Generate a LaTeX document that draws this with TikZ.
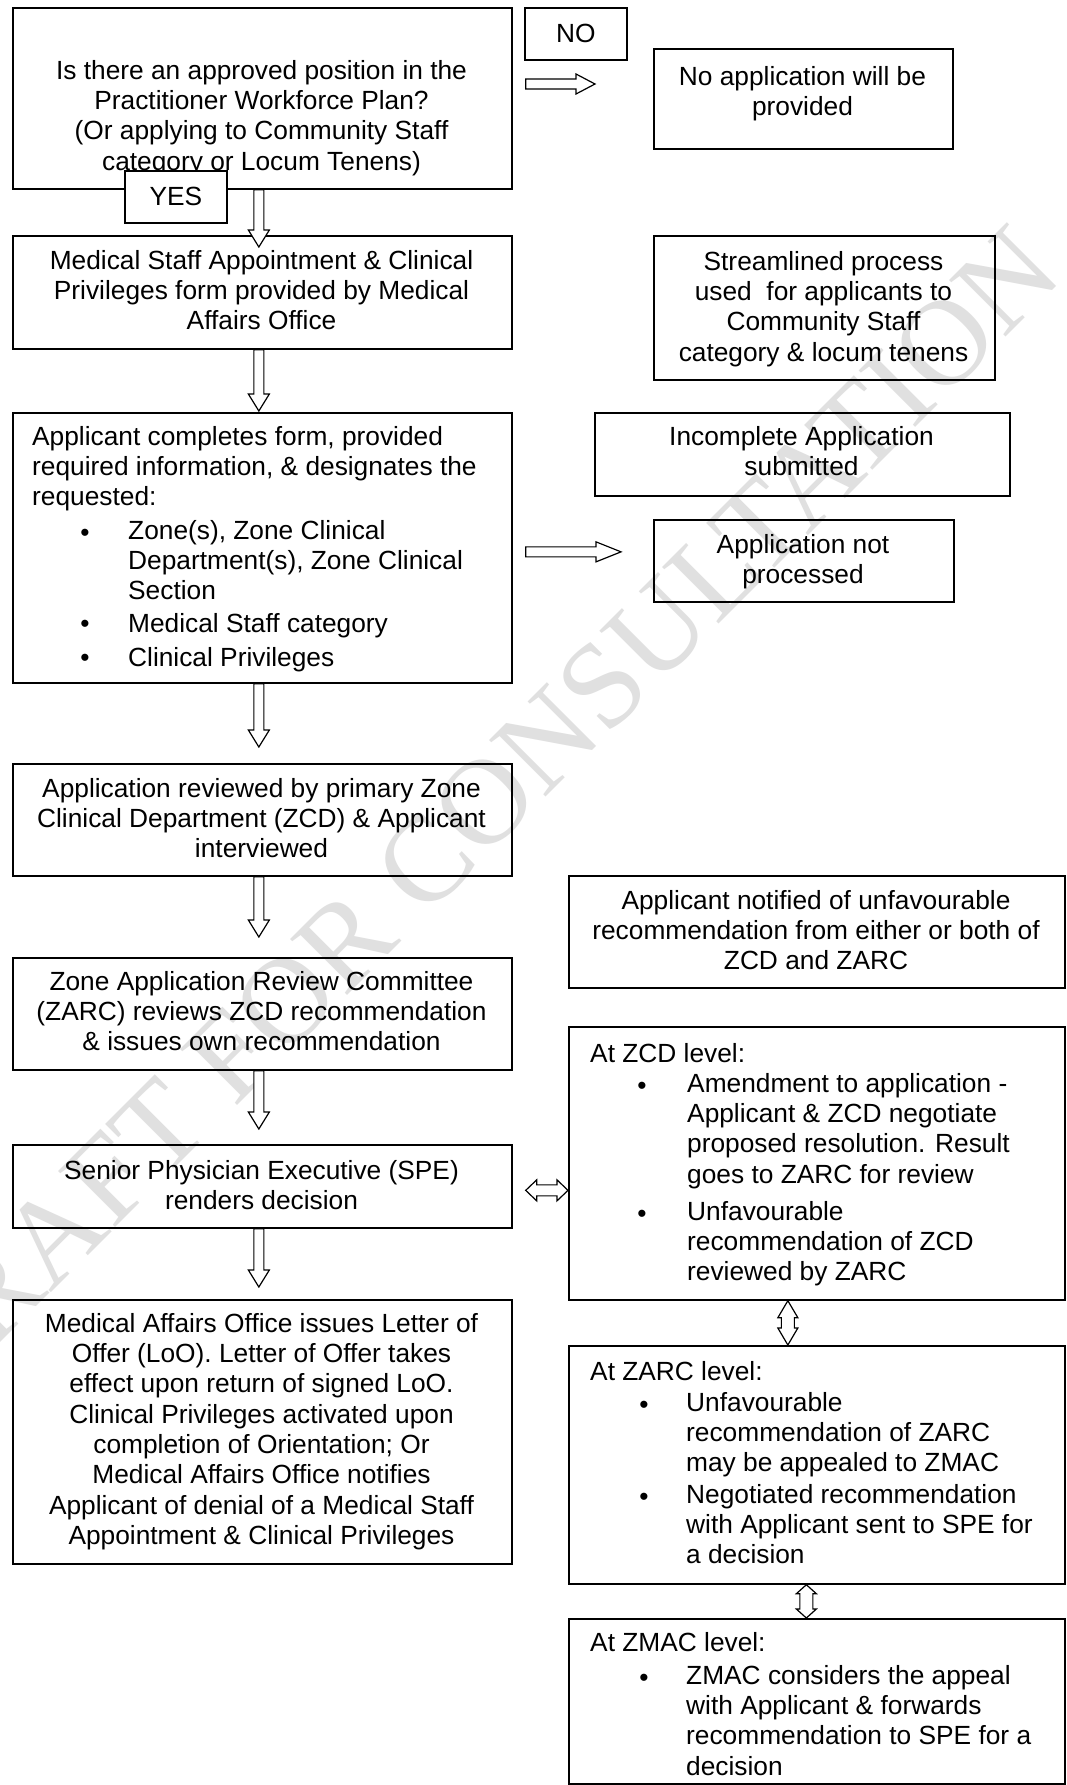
\documentclass[tikz,border=0pt]{standalone}
\usepackage{fontspec}
\setmainfont{Liberation Sans}
\newfontfamily\wmfont{Liberation Serif}
\usetikzlibrary{calc}
\newcommand{\bodyfs}{\fontsize{26.3}{30.3}\selectfont}
\tikzset{
  box/.style={draw=black, line width=1.7pt, inner sep=0pt, anchor=north west, font=\bodyfs},
  txt/.style={inner sep=0pt, font=\bodyfs, align=center, anchor=north, execute at begin node=\strut},
  ltxt/.style={inner sep=0pt, font=\bodyfs, align=left, anchor=north west, execute at begin node=\strut},
  bul/.style={inner sep=0pt, font=\bodyfs, anchor=north, execute at begin node=\strut},
  arr/.style={draw=black, line width=1.2pt, fill=white, line join=miter},
  wm/.style={inner sep=0pt, text=gray!24, font={\wmfont\fontsize{122}{122}\selectfont}, rotate=45},
  bdown/.style={to path={let \p1=(\tikztostart), \p2=(\tikztotarget) in
    (\x1-5pt,\y1) -- (\x1-5pt,\y2+17pt) -- (\x1-10.5pt,\y2+17pt) -- (\x1,\y2)
    -- (\x1+10.5pt,\y2+17pt) -- (\x1+5pt,\y2+17pt) -- (\x1+5pt,\y1) -- cycle}},
  bright/.style={to path={let \p1=(\tikztostart), \p2=(\tikztotarget) in
    (\x1,\y1-5pt) -- (\x2-#1pt,\y1-5pt) -- (\x2-#1pt,\y1-10pt) -- (\x2,\y1)
    -- (\x2-#1pt,\y1+10pt) -- (\x2-#1pt,\y1+5pt) -- (\x1,\y1+5pt) -- cycle}},
  dblh/.style={to path={let \p1=(\tikztostart), \p2=(\tikztotarget) in
    (\x1,\y1) -- (\x1+#1pt,\y1+10.5pt) -- (\x1+#1pt,\y1+5.5pt) -- (\x2-#1pt,\y1+5.5pt)
    -- (\x2-#1pt,\y1+10.5pt) -- (\x2,\y1) -- (\x2-#1pt,\y1-10.5pt) -- (\x2-#1pt,\y1-5.5pt)
    -- (\x1+#1pt,\y1-5.5pt) -- (\x1+#1pt,\y1-10.5pt) -- cycle}},
  dblv/.style={to path={let \p1=(\tikztostart), \p2=(\tikztotarget) in
    (\x1,\y1) -- (\x1-10pt,\y1-#1pt) -- (\x1-6.5pt,\y1-#1pt) -- (\x1-6.5pt,\y2+#1pt)
    -- (\x1-10pt,\y2+#1pt) -- (\x1,\y2) -- (\x1+10pt,\y2+#1pt) -- (\x1+6.5pt,\y2+#1pt)
    -- (\x1+6.5pt,\y1-#1pt) -- (\x1+10pt,\y1-#1pt) -- cycle}},
}
\begin{document}
\begin{tikzpicture}[x=1pt, y=-1pt]
\useasboundingbox (0,0) rectangle (1066,1785);
\fill[white] (0,0) rectangle (1066,1785);

% watermark
\node[wm] (wmk) at (470,817) {DRAFT FOR CONSULTATION};

% boxes
\node[box, minimum width=499pt, minimum height=181pt] (q) at (12,7) {};
\node[txt] (qt) at (261.5,60) {Is there an approved position in the\\Practitioner Workforce Plan?\\(Or applying to Community Staff\\category or Locum Tenens)};
\node[box, minimum width=102pt, minimum height=52pt] (no) at (524,7) {NO};
\node[box, minimum width=299pt, minimum height=100pt] (noapp) at (653,48) {};
\node[txt] (noappt) at (802.5,66) {No application will be\\provided};
\node[box, fill=white, minimum width=102pt, minimum height=52pt] (yes) at (124,170) {YES};

\node[box, minimum width=499pt, minimum height=113pt] (b2) at (12,235) {};
\node[txt] (b2t) at (261.5,250) {Medical Staff Appointment \& Clinical\\Privileges form provided by Medical\\Affairs Office};
\node[box, minimum width=341pt, minimum height=144pt] (stream) at (653,235) {};
\node[txt] (streamt) at (823.5,251) {Streamlined process\\used\ \ for applicants to\\Community Staff\\category \& locum tenens};

\node[box, minimum width=499pt, minimum height=270pt] (b3) at (12,412) {};
\node[ltxt] (b3t) at (32,426) {Applicant completes form, provided\\required information, \& designates the\\requested:};
\node[bul] (b3b1) at (85,520) {\textbullet};
\node[ltxt] (b3i1) at (128,520) {Zone(s), Zone Clinical\\Department(s), Zone Clinical\\Section};
\node[bul] (b3b2) at (85,611) {\textbullet};
\node[ltxt] (b3i2) at (128,611) {Medical Staff category};
\node[bul] (b3b3) at (85,645) {\textbullet};
\node[ltxt] (b3i3) at (128,645) {Clinical Privileges};
\node[box, minimum width=415pt, minimum height=83pt] (incomp) at (594,412) {};
\node[txt] (incompt) at (801.5,426) {Incomplete Application\\submitted};
\node[box, minimum width=300pt, minimum height=82pt] (notproc) at (653,519) {};
\node[txt] (notproct) at (803,534) {Application not\\processed};

\node[box, minimum width=499pt, minimum height=112pt] (b4) at (12,763) {};
\node[txt] (b4t) at (261.5,778) {Application reviewed by primary Zone\\Clinical Department (ZCD) \& Applicant\\interviewed};
\node[box, minimum width=496pt, minimum height=112pt] (notif) at (568,875) {};
\node[txt] (notift) at (816,890) {Applicant notified of unfavourable\\recommendation from either or both of\\ZCD and ZARC};

\node[box, minimum width=499pt, minimum height=112pt] (b5) at (12,957) {};
\node[txt] (b5t) at (261.5,971) {Zone Application Review Committee\\(ZARC) reviews ZCD recommendation\\\& issues own recommendation};

\node[box, minimum width=496pt, minimum height=273pt] (zcd) at (568,1026) {};
\node[ltxt] (zcdt) at (590,1041) {At ZCD level:};
\node[bul] (zcdb1) at (642,1073) {\textbullet};
\node[ltxt] (zcdi1) at (687,1073) {Amendment to application -\\Applicant \& ZCD negotiate\\proposed resolution. Result\\goes to ZARC for review};
\node[bul] (zcdb2) at (642,1201) {\textbullet};
\node[ltxt] (zcdi2) at (687,1201) {Unfavourable\\recommendation of ZCD\\reviewed by ZARC};

\node[box, minimum width=499pt, minimum height=83pt] (b6) at (12,1144) {};
\node[txt] (b6t) at (261.5,1160) {Senior Physician Executive (SPE)\\renders decision};

\node[box, minimum width=499pt, minimum height=264pt] (b7) at (12,1299) {};
\node[txt] (b7t) at (261.5,1313) {Medical Affairs Office issues Letter of\\Offer (LoO). Letter of Offer takes\\effect upon return of signed LoO.\\Clinical Privileges activated upon\\completion of Orientation; Or\\Medical Affairs Office notifies\\Applicant of denial of a Medical Staff\\Appointment \& Clinical Privileges};

\node[box, minimum width=496pt, minimum height=238pt] (zarc) at (568,1345) {};
\node[ltxt] (zarct) at (590,1359) {At ZARC level:};
\node[bul] (zarcb1) at (644,1392) {\textbullet};
\node[ltxt] (zarci1) at (686,1392) {Unfavourable\\recommendation of ZARC\\may be appealed to ZMAC};
\node[bul] (zarcb2) at (644,1484) {\textbullet};
\node[ltxt] (zarci2) at (686,1484) {Negotiated recommendation\\with Applicant sent to SPE for\\a decision};

\node[box, minimum width=496pt, minimum height=165pt] (zmac) at (568,1618) {};
\node[ltxt] (zmact) at (590,1630) {At ZMAC level:};
\node[bul] (zmacb1) at (644,1665) {\textbullet};
\node[ltxt] (zmaci1) at (686,1665) {ZMAC considers the appeal\\with Applicant \& forwards\\recommendation to SPE for a\\decision};

% connectors
\draw[arr] ($(q.south)+(-3.5,0)$) to[bdown] ($(b2.north)+(-3.5,12)$);
\draw[arr] ($(b2.south)+(-3.5,0)$) to[bdown] ($(b3.north)+(-3.5,-1)$);
\draw[arr] ($(b3.south)+(-3.5,0)$) to[bdown] ($(b4.north)+(-3.5,-16)$);
\draw[arr] ($(b4.south)+(-3.5,0)$) to[bdown] ($(b5.north)+(-3.5,-20)$);
\draw[arr] ($(b5.south)+(-3.5,0)$) to[bdown] ($(b6.north)+(-3.5,-15)$);
\draw[arr] ($(b6.south)+(-3.5,0)$) to[bdown] ($(b7.north)+(-3.5,-12)$);
\draw[arr] ($(q.north east)+(13,77)$) to[bright=19] ($(noapp.west)+(-58,0)$);
\draw[arr] ($(b3.east)+(13,4)$) to[bright=25] ($(notproc.west)+(-32,0)$);
\draw[arr] ($(b6.east)+(13,4)$) to[dblh=11] (zcd.west);
\draw[arr] ($(zcd.south)+(-29,0)$) to[dblv=17] (zarc.north);
\draw[arr] ($(zarc.south)+(-10.5,0)$) to[dblv=9] (zmac.north);
\end{tikzpicture}
\end{document}
